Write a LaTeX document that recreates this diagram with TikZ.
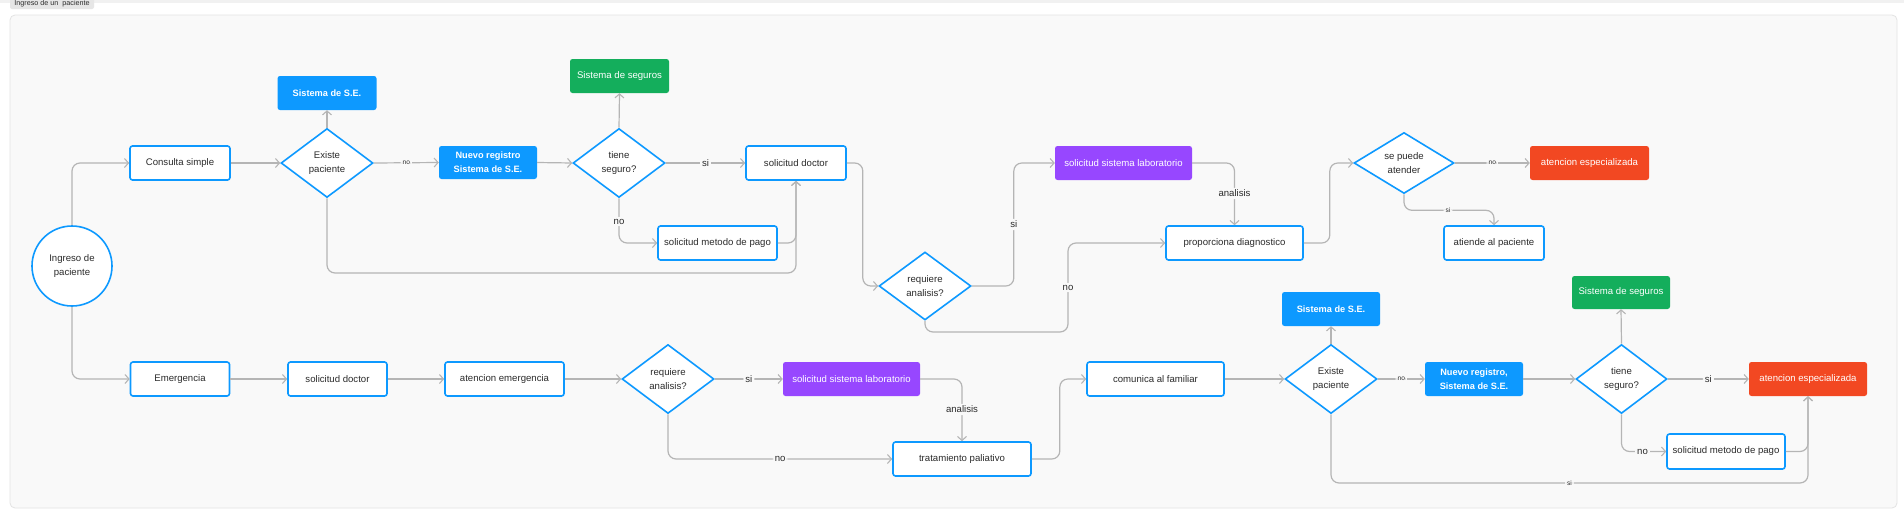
\documentclass[tikz,border=0pt]{standalone}
\usepackage{fontspec}
\setmainfont{Liberation Sans}
\usetikzlibrary{shapes.geometric,arrows.meta,calc}
\definecolor{figblue}{HTML}{0D99FF}
\definecolor{figgreen}{HTML}{14AE5C}
\definecolor{figpurple}{HTML}{9747FF}
\definecolor{figred}{HTML}{F24822}
\definecolor{conngray}{HTML}{B5B5B5}
\definecolor{panelfill}{HTML}{F9F9F9}
\definecolor{paneldraw}{HTML}{E3E3E3}
\definecolor{txt}{HTML}{2B2B2B}
\definecolor{tabfill}{HTML}{E6E6E6}
\definecolor{topband}{HTML}{F1F1F1}
\newcommand{\ftnorm}{\fontsize{9.6}{14}\selectfont}
\newcommand{\ftbold}{\fontsize{9.2}{14}\selectfont\bfseries}
\newcommand{\fttiny}{\fontsize{6.6}{8}\selectfont}
\begin{document}
\begin{tikzpicture}[x=1pt,y=-1pt,
  box/.style={draw=figblue, line width=1.6pt, fill=white, rounded corners=2.5pt,
    inner sep=0pt, align=center, text=txt, font=\ftnorm},
  fbox/.style={fill=#1, rounded corners=2.5pt, inner sep=0pt, align=center,
    text=white, font=\ftnorm},
  dia/.style={diamond, draw=figblue, line width=1.6pt, fill=white, inner sep=0pt,
    align=center, text=txt, font=\ftnorm},
  circ/.style={circle, draw=figblue, line width=1.6pt, fill=white, inner sep=0pt,
    minimum size=80pt, align=center, text=txt, font=\ftnorm},
  conn/.style={draw=conngray, line width=1.2pt, rounded corners=8pt,
    -{Straight Barb[length=4pt,width=9pt,line width=1.1pt]}},
  lbl/.style={fill=panelfill, inner sep=2pt, text=txt, font=\ftnorm},
  tlbl/.style={fill=panelfill, inner sep=2pt, text=txt, font=\fttiny},
  bw/.style={minimum width=#1},
  bh/.style={minimum height=#1}
]
\useasboundingbox (0,0) rectangle (1904,517);
% frame
\fill[white] (0,0) rectangle (1904,517);
\fill[topband] (0,0) rectangle (1904,3) ;
\draw[fill=panelfill, draw=paneldraw, line width=0.8pt, rounded corners=5pt] (10,15) rectangle (1897,508);
\node[fill=tabfill, rounded corners=2pt, inner sep=0pt, minimum width=84, minimum height=11,
  text=txt, font=\fontsize{7.2}{8}\selectfont] (tab) at (52,3.5) {Ingreso de un\ \ paciente};

% ---------- top row ----------
\node[circ] (ini) at (72,266) {Ingreso de\\paciente};
\node[box, bw=100, bh=34] (cs) at (180,163) {Consulta simple};
\node[dia, bw=92, bh=69] (ep1) at (327,163) {Existe\\paciente};
\node[fbox=figblue, font=\ftbold, bw=99, bh=34] (se1) at (327,93) {Sistema de S.E.};
\node[fbox=figblue, font=\ftbold, bw=98, bh=33] (nr1) at (488,162.5) {Nuevo registro\\Sistema de S.E.};
\node[dia, bw=92, bh=69] (ts1) at (619,163) {tiene\\seguro?};
\node[fbox=figgreen, bw=99, bh=34] (sg1) at (619.5,76) {Sistema de seguros};
\node[box, bw=100, bh=34] (sd1) at (796,163) {solicitud doctor};
\node[box, bw=119, bh=34] (mp1) at (717.5,243) {solicitud metodo de pago};
\node[dia, bw=92, bh=68] (ra1) at (925,286) {requiere\\analisis?};
\node[fbox=figpurple, bw=137, bh=34] (lab1) at (1123.5,163) {solicitud sistema laboratorio};
\node[box, bw=137, bh=34] (pd) at (1234.5,243) {proporciona diagnostico};
\node[dia, bw=100, bh=61] (spa) at (1404,163) {se puede\\atender};
\node[fbox=figred, bw=119, bh=34] (ae1) at (1589.5,163) {atencion especializada};
\node[box, bw=100, bh=34] (ap) at (1494,243) {atiende al paciente};

% ---------- bottom row ----------
\node[box, bw=99, bh=34] (em) at (180,379) {Emergencia};
\node[box, bw=99, bh=34] (sd2) at (337.5,379) {solicitud doctor};
\node[box, bw=119, bh=34] (aem) at (504.5,379) {atencion emergencia};
\node[dia, bw=92, bh=69] (ra2) at (668,379) {requiere\\analisis?};
\node[fbox=figpurple, bw=137, bh=34] (lab2) at (851.5,379) {solicitud sistema laboratorio};
\node[box, bw=138, bh=34] (tp) at (962,459) {tratamiento paliativo};
\node[box, bw=137, bh=34] (cf) at (1155.5,379) {comunica al familiar};
\node[dia, bw=92, bh=69] (ep2) at (1331,379) {Existe\\paciente};
\node[fbox=figblue, font=\ftbold, bw=98, bh=34] (se2) at (1331,309) {Sistema de S.E.};
\node[fbox=figblue, font=\ftbold, bw=98, bh=34] (nr2) at (1474,379) {Nuevo registro,\\Sistema de S.E.};
\node[dia, bw=91, bh=69] (ts2) at (1621.5,379) {tiene\\seguro?};
\node[fbox=figgreen, bw=98, bh=33] (sg2) at (1621,292.5) {Sistema de seguros};
\node[fbox=figred, bw=118, bh=34] (ae2) at (1808,379) {atencion especializada};
\node[box, bw=118, bh=35] (mp2) at (1726,451.5) {solicitud metodo de pago};

% helper coordinates
\coordinate (c1) at (327,273);
\coordinate (c2) at (1068,332);
\coordinate (c4) at (1331,483);

% ---------- top connectors ----------
\draw[conn] (ini.north) |- (cs.west);
\draw[conn] (cs.east) -- (ep1.west);
\draw[conn] (ep1.north) -- (se1.south);
\draw[conn] (ep1.east) -- node[tlbl] {no} (nr1.west);
\draw[conn] (nr1.east) -- (ts1.west);
\draw[conn] (ts1.north) -- (sg1.south);
\draw[conn] (ts1.east) -- node[lbl] {si} (sd1.west);
\draw[conn] (ts1.south) |- node[lbl, pos=0.26] {no} (mp1.west);
\draw[conn] (mp1.east) -| (sd1.south);
\draw[conn] (ep1.south) -- (c1) -- (sd1.south |- c1) -- (sd1.south);
\draw[conn] (sd1.east) -- ++(16,0) |- (ra1.west);
\draw[conn] (ra1.east) -- ++(42,0) |- node[lbl, pos=0.25] {si} (lab1.west);
\draw[conn] (lab1.east) -| node[lbl, pos=0.745] {analisis} (pd.north);
\draw[conn] (ra1.south) |- (c2) |- node[lbl, pos=0.25] {no} (pd.west);
\draw[conn] (pd.east) -- ++(26,0) |- (spa.west);
\draw[conn] (spa.east) -- node[tlbl] {no} (ae1.west);
\draw[conn] (spa.south) -- ++(0,16) -| node[tlbl, pos=0.245] {si} (ap.north);

% ---------- bottom connectors ----------
\draw[conn] (ini.south) |- (em.west);
\draw[conn] (em.east) -- (sd2.west);
\draw[conn] (sd2.east) -- (aem.west);
\draw[conn] (aem.east) -- (ra2.west);
\draw[conn] (ra2.east) -- node[lbl] {si} (lab2.west);
\draw[conn] (lab2.east) -| node[lbl, pos=0.745] {analisis} (tp.north);
\draw[conn] (ra2.south) |- node[lbl, pos=0.75] {no} (tp.west);
\draw[conn] (tp.east) -- ++(28,0) |- (cf.west);
\draw[conn] (cf.east) -- (ep2.west);
\draw[conn] (ep2.north) -- (se2.south);
\draw[conn] (ep2.east) -- node[tlbl] {no} (nr2.west);
\draw[conn] (nr2.east) -- (ts2.west);
\draw[conn] (ts2.north) -- (sg2.south);
\draw[conn] (ts2.east) -- node[lbl] {si} (ae2.west);
\draw[conn] (ts2.south) |- node[lbl, pos=0.735] {no} (mp2.west);
\draw[conn] (mp2.east) -| (ae2.south);
\draw[conn] (ep2.south) -- (c4) -- node[tlbl] {si} (ae2.south |- c4) -- (ae2.south);
\end{tikzpicture}
\end{document}
